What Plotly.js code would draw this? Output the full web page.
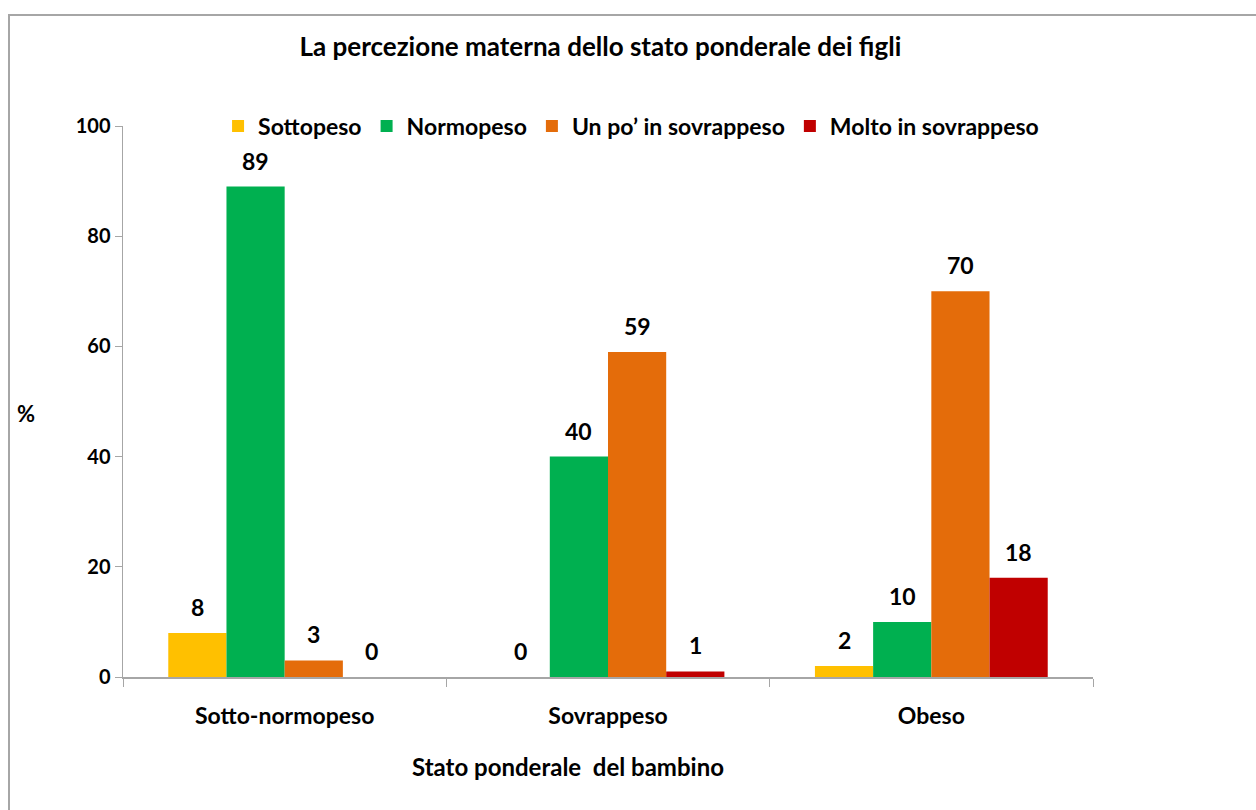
<!DOCTYPE html>
<html>
<head>
<meta charset="utf-8">
<script src="https://cdn.plot.ly/plotly-3.0.1.min.js"></script>
<style>
html,body{margin:0;padding:0;background:#fff;}
#frame{position:absolute;left:8px;top:14px;width:1300px;height:850px;border-left:2px solid #a6a6a6;border-top:2px solid #a6a6a6;box-sizing:border-box;}
#chart{position:absolute;left:0;top:0;width:1256px;height:810px;}
</style>
</head>
<body>
<div id="frame"></div>
<div id="chart"></div>
<script>
const categories = ["Sotto-normopeso", "Sovrappeso", "Obeso"];
const seriesNames = ["Sottopeso", "Normopeso", "Un po\u2019 in sovrappeso", "Molto in sovrappeso"];
const sottopeso = [8, 0, 2];
const normopeso = [89, 40, 10];
const unPoSovrappeso = [3, 59, 70];
const moltoSovrappeso = [0, 1, 18];
const colors = ["#FFC000", "#00B050", "#E46C0A", "#C00000"];
const yTicks = [0, 20, 40, 60, 80, 100];
const xTitle = "Stato ponderale  del bambino";
const chartTitle = "La percezione materna dello stato ponderale dei figli";

const FONT = "Lato, 'Open Sans', sans-serif";
const allValues = [sottopeso, normopeso, unPoSovrappeso, moltoSovrappeso];
const traces = allValues.map((vals, i) => ({
  type: "bar",
  name: seriesNames[i],
  x: categories,
  y: vals,
  marker: {color: colors[i]},
  offsetgroup: String(i),
  hoverinfo: "none"
}));

// value labels placed above each bar via annotations (data coords + pixel offset per series)
const plotW = 1256 - 123 - 163;
const catW = plotW / categories.length;
const bargap = 0.28;
const barW = catW * (1 - bargap) / allValues.length;
const annotations = [];
allValues.forEach((vals, i) => {
  const off = (i - (allValues.length - 1) / 2) * barW;
  vals.forEach((v, j) => {
    annotations.push({
      xref: "x", yref: "y", x: categories[j], y: v,
      text: "<b>" + v + "</b>", showarrow: false,
      xshift: off, yshift: 26, xanchor: "center", yanchor: "middle",
      font: {family: FONT, size: 23, color: "#000"}
    });
  });
});
annotations.push({
  text: "<b>%</b>", xref: "paper", yref: "paper", x: -0.1, y: 0.478,
  xanchor: "center", yanchor: "middle", showarrow: false,
  font: {family: FONT, size: 22, color: "#000"}
});
annotations.push({
  text: "<b>" + xTitle + "</b>", xref: "paper", yref: "paper", x: 0.4588, y: -0.163,
  xanchor: "center", yanchor: "middle", showarrow: false,
  font: {family: FONT, size: 24, color: "#000"}
});

const layout = {
  width: 1256, height: 810,
  paper_bgcolor: "rgba(0,0,0,0)",
  plot_bgcolor: "rgba(0,0,0,0)",
  margin: {l: 123, r: 163, t: 126, b: 133},
  barmode: "group",
  bargap: bargap,
  bargroupgap: 0,
  showlegend: true,
  legend: {
    orientation: "h", x: 0.098, xanchor: "left", y: 1.0, yanchor: "middle",
    font: {family: FONT, size: 23, color: "#000", weight: "bold"},
    itemwidth: 30, traceorder: "normal", itemclick: false
  },
  title: {
    text: "<b>" + chartTitle + "</b>",
    x: 0.478, xanchor: "center", y: 0.942, yanchor: "middle",
    font: {family: FONT, size: 26, color: "#000"}
  },
  xaxis: {
    type: "category",
    showline: true, linecolor: "#a6a6a6", linewidth: 1.5,
    ticks: "outside", tickson: "boundaries", ticklen: 8, tickcolor: "#a6a6a6",
    ticklabelstandoff: 18,
    tickfont: {family: FONT, size: 23, color: "#000", weight: "bold"},
    showgrid: false, zeroline: false, fixedrange: true
  },
  yaxis: {
    range: [0, 100],
    tickvals: yTicks,
    showline: true, linecolor: "#a6a6a6", linewidth: 1.5,
    ticks: "outside", ticklen: 7, tickcolor: "#a6a6a6",
    tickfont: {family: FONT, size: 20, color: "#000", weight: "bold"},
    showgrid: false, zeroline: false, fixedrange: true
  },
  annotations: annotations
};

Plotly.newPlot("chart", traces, layout, {displayModeBar: false, staticPlot: true});
</script>
</body>
</html>
